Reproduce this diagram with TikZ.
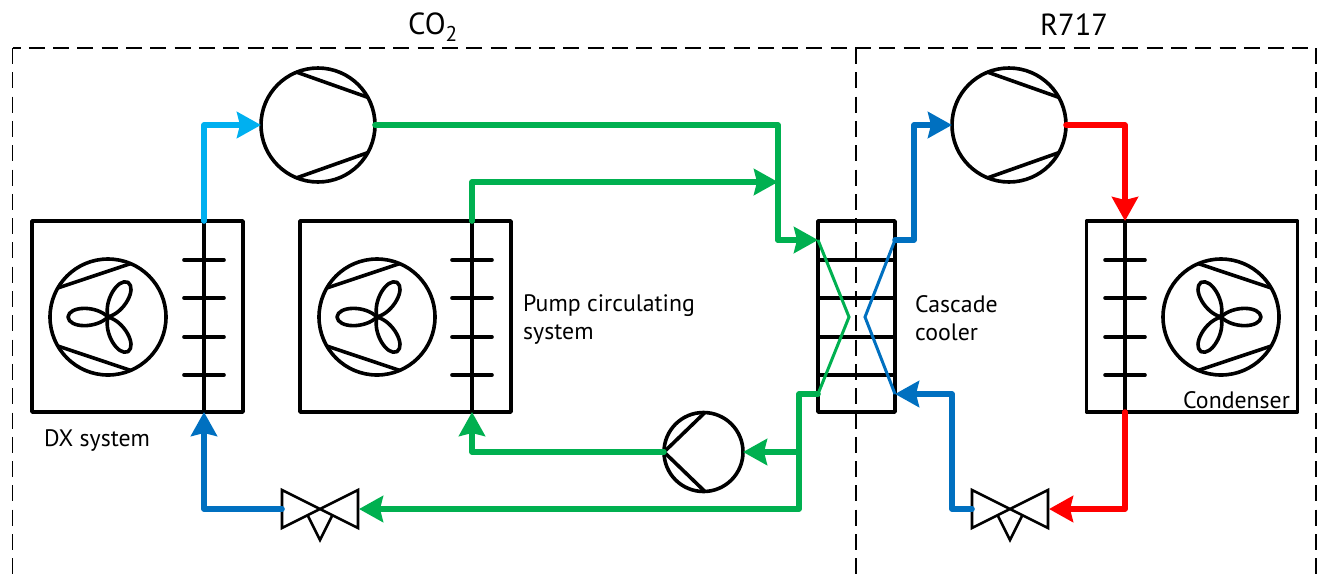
\documentclass[tikz,border=0pt]{standalone}
\usepackage{xcolor}
\usepackage{fontspec}
\setmainfont{PT Sans}
\usetikzlibrary{arrows.meta, calc}
\definecolor{Leaf} {HTML}{00B050}
\definecolor{Ocean}{HTML}{0070C0}
\definecolor{Sky}  {HTML}{00B0F0}
\definecolor{Hot}  {HTML}{FF0000}
\tikzset{
  pipe/.style={line width=5.6pt, line join=round, line cap=round},
  pipe arrow/.style={pipe, -{Stealth[length=24pt,width=26pt,inset=3pt]}},
}

\begin{document}
\begin{tikzpicture}[x=1pt, y=-1pt, font=\fontsize{23.8}{28}\selectfont,
    part/.style={draw, line width=3.6pt, inner sep=0pt, outer sep=0pt},
    unitbox/.style={part, rectangle, line join=round, minimum width=211pt, minimum height=191pt},
    coil/.style={part, rectangle, minimum width=0pt, minimum height=191pt},
    stackbox/.style={part, rectangle, line join=round, minimum width=77pt, minimum height=191pt},
    machine/.style={part, circle, minimum size=114pt},
    pumpbody/.style={part, circle, minimum size=79pt},
    fanbody/.style={part, circle, minimum size=116pt},
    detail/.style={line width=3.6pt, line cap=round, line join=round},
    thinline/.style={line width=2.6pt, line join=miter},
    frame/.style={line width=1.9pt, dash pattern=on 16pt off 8.3pt},
    caption/.style={anchor=west, align=left, inner sep=0pt},
    heading/.style={font=\fontsize{30.5}{36}\selectfont, inner sep=0pt}]
  \useasboundingbox (0,0) rectangle (1322,582);
  % Boundaries
  \coordinate (frameA) at (12.5,582);
  \coordinate (frameB) at (12.5,48);
  \coordinate (frameC) at (1316,48);
  \coordinate (frameD) at (1316,582);
  \coordinate (splitA) at (856,48);
  \coordinate (splitB) at (856,582);
  \draw[frame] (frameB) -- (frameA);
  \draw[frame, dash phase=8pt] (frameB) -- (frameC);
  \draw[frame] (frameC) -- (frameD);
  \draw[frame] (splitA) -- (splitB);
  % Heat exchanger units
  \foreach \unit/\bx/\cx/\fx/\ca/\cb/\cc/\cd/\pa/\pb/\pc in
      {dx/137.5/204/108/150/67/210/293/180/60/-60,
       pc/405.5/472/377/150/67/210/293/180/60/-60,
       cd/1192/1125/1221/30/113/330/247/0/120/-120} {
    \node[unitbox] (\unit box)  at (\bx,316.5) {};
    \node[coil]    (\unit coil) at (\cx,316.5) {};
    \node[fanbody] (\unit fan)  at (\fx,317) {};
    \foreach \y in {260,298,337,375}
      \draw[detail] (\cx-20,\y) -- (\cx+20,\y);
    \draw[detail] (\unit fan.\ca) -- (\unit fan.\cb);
    \draw[detail] (\unit fan.\cc) -- (\unit fan.\cd);
    \foreach \a in {\pa,\pb,\pc}
      \draw[detail, shift={(\fx,317)}, rotate=\a]
        (0,0) .. controls (12,-12) and (39,-11) .. (40,0)
              .. controls (39,11) and (12,12) .. (0,0);
  }
  % Compressors and pump
  \node[machine] (compA) at (318,125) {};
  \node[machine] (compB) at (1009,125) {};
  \foreach \comp in {compA,compB} {
    \draw[detail] (\comp.112) -- (\comp.29);
    \draw[detail] (\comp.248) -- (\comp.331);
  }
  \node[pumpbody] (pump) at (703.5,452) {};
  \draw[detail] (pump.180) -- (pump.88);
  \draw[detail] (pump.180) -- (pump.272);
  % Cascade cooler
  \node[stackbox] (cascade) at (856.5,316.5) {};
  \foreach \y in {260,298,337,375}
    \draw[detail] (818,\y) -- (895,\y);
  \coordinate (casGin)  at (818,240);
  \coordinate (casGmid) at (849,317);
  \coordinate (casGout) at (818,394);
  \coordinate (casBout) at (895,240);
  \coordinate (casBmid) at (865,317);
  \coordinate (casBin)  at (895,394);
  \draw[Leaf,  line width=3pt, line join=miter] (casGin) -- (casGmid) -- (casGout);
  \draw[Ocean, line width=3pt, line join=miter] (casBout) -- (casBmid) -- (casBin);
  % Expansion valves
  \foreach \valve/\vx in {valveA/320,valveB/1010} {
    \coordinate (\valve) at (\vx,509);
    \coordinate (\valve W) at (\vx-38,509);
    \coordinate (\valve E) at (\vx+39,509);
    \draw[thinline] (\vx-38,490) -- (\vx+38,528) -- (\vx+38,490) -- (\vx-38,528) -- cycle;
    \draw[thinline] (\vx-12,516) -- (\vx,540) -- (\vx+12,516);
  }
  % Piping
  \coordinate (jointA) at (778,240);
  \coordinate (jointB) at (778,182);
  \coordinate (jointC) at (914,240);
  \coordinate (jointD) at (952,509);
  \coordinate (jointE) at (799,394);
  \coordinate (jointF) at (799,452);
  \draw[pipe arrow, Sky]   (dxcoil.north) |- (compA.west);
  \draw[pipe, Leaf]        (compA.east) -| (jointA);
  \draw[pipe arrow, Leaf]  (jointA) -- (casGin);
  \draw[pipe arrow, Leaf]  (pccoil.north) |- (jointB);
  \draw[pipe arrow, Ocean] (casBout) -- (jointC) |- (compB.west);
  \draw[pipe arrow, Hot]   (compB.east) -| (cdcoil.north);
  \draw[pipe arrow, Hot]   (cdcoil.south) |- (valveBE);
  \draw[pipe arrow, Ocean] (valveBW) -- (jointD) |- (casBin);
  \draw[pipe arrow, Leaf]  (casGout) -- (jointE) |- (valveAE);
  \draw[pipe arrow, Leaf]  (jointF) -- (pump.east);
  \draw[pipe arrow, Leaf]  (pump.west) -| (pccoil.south);
  \draw[pipe arrow, Ocean] (valveAW) -| (dxcoil.south);
  % Labels
  \node[heading] (co2label) at (433,27) {CO\textsubscript{2}};
  \node[heading] (r717label) at (1074,25) {R717};
  \node[caption] (dxlabel) at (44,441) {DX system};
  \node[caption] (pclabel) at (523,319.5) {Pump circulating\\system};
  \node[caption] (cclabel) at (915,318) {Cascade\\cooler};
  \node[caption] (cdlabel) at (1183,400) {Condenser};
\end{tikzpicture}
\end{document}
